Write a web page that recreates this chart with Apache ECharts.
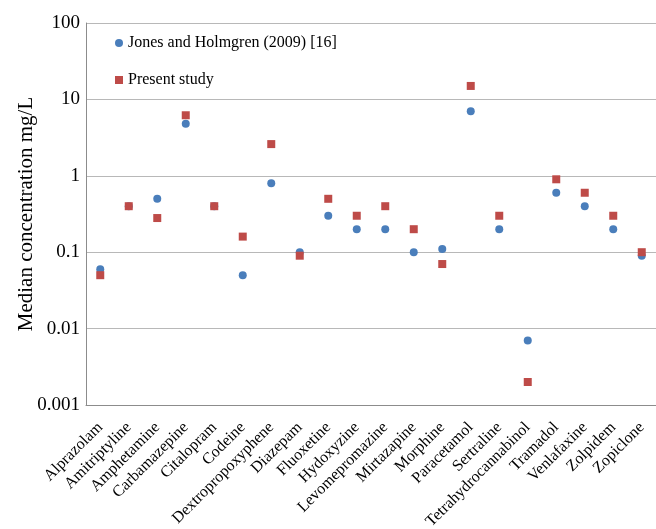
<!DOCTYPE html>
<html><head><meta charset="utf-8">
<script src="https://cdn.jsdelivr.net/npm/echarts@6/dist/echarts.min.js"></script>
<style>html,body{margin:0;padding:0;background:#fff}#c{width:656px;height:529px}</style>
</head><body><div id="c"></div>
<script>
const categories = ['Alprazolam','Amitriptyline','Amphetamine','Carbamazepine','Citalopram','Codeine','Dextropropoxyphene','Diazepam','Fluoxetine','Hydoxyzine','Levomepromazine','Mirtazapine','Morphine','Paracetamol','Sertraline','Tetrahydrocannabinol','Tramadol','Venlafaxine','Zolpidem','Zopiclone'];
const jonesHolmgren = [0.06,0.4,0.5,4.8,0.4,0.05,0.8,0.1,0.3,0.2,0.2,0.1,0.11,7,0.2,0.007,0.6,0.4,0.2,0.09];
const presentStudy = [0.05,0.4,0.28,6.2,0.4,0.16,2.6,0.09,0.5,0.3,0.4,0.2,0.07,15,0.3,0.002,0.9,0.6,0.3,0.1];
const yTicks = [0.001,0.01,0.1,1,10,100];

const font = 'Liberation Serif';
const chart = echarts.init(document.getElementById('c'));
chart.setOption({
  animation: false,
  textStyle: {fontFamily: font},
  grid: {left: 86, right: 0, top: 23, bottom: 124, containLabel: false, outerBoundsMode: 'none'},
  legend: {
    left: 115, top: 35, padding: 0, orient: 'vertical', itemGap: 21,
    itemWidth: 8, itemHeight: 8,
    textStyle: {fontFamily: font, fontSize: 16, color: '#000'},
    data: [{name: 'Jones and Holmgren (2009) [16]', icon: 'circle'}, {name: 'Present study', icon: 'rect'}]
  },
  xAxis: {
    type: 'category', data: categories,
    axisLine: {show: true, lineStyle: {color: '#8c8c8c', width: 1}}, axisTick: {show: false},
    axisLabel: {interval: 0, rotate: 45, fontFamily: font, fontSize: 16, color: '#000', margin: 20}
  },
  yAxis: {
    type: 'log', logBase: 10, min: 0.001, max: 100,
    name: 'Median concentration mg/L', nameLocation: 'middle', nameGap: 49, nameMoveOverlap: false,
    nameTextStyle: {fontFamily: font, fontSize: 21, color: '#000'},
    axisLine: {show: true, lineStyle: {color: '#8c8c8c', width: 1}},
    axisTick: {show: false},
    splitLine: {show: true, lineStyle: {color: '#b8b8b8', width: 1}},
    minorTick: {show: false},
    axisLabel: {fontFamily: font, fontSize: 19, color: '#000', margin: 6,
      formatter: v => { const t = yTicks.find(x => Math.abs(x - v) / x < 1e-6); return t !== undefined ? String(t) : ''; }}
  },
  series: [
    {name: 'Jones and Holmgren (2009) [16]', type: 'scatter', symbol: 'circle', symbolSize: 8,
     itemStyle: {color: '#4A7EBB', opacity: 1}, data: jonesHolmgren, z: 2},
    {name: 'Present study', type: 'scatter', symbol: 'rect', symbolSize: 8,
     itemStyle: {color: '#BE4B48', opacity: 1}, data: presentStudy, z: 3}
  ]
});
</script></body></html>
